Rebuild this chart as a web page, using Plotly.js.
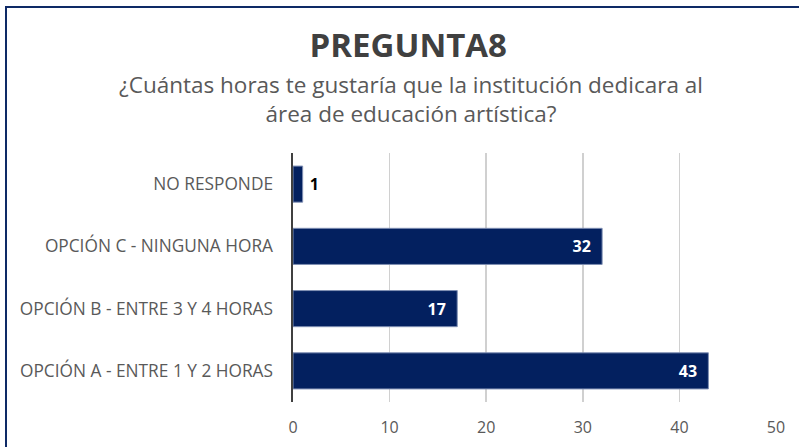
<!DOCTYPE html>
<html>
<head>
<meta charset="utf-8">
<script src="https://cdn.plot.ly/plotly-3.0.1.min.js"></script>
<style>
html,body{margin:0;padding:0;background:#fff;}
#wrap{position:relative;width:799px;height:447px;overflow:hidden;}
#chart{width:799px;height:447px;}
#frame{position:absolute;left:5px;top:6px;width:900px;height:600px;border-top:2px solid #0e2a66;border-left:2px solid #0e2a66;pointer-events:none;}
</style>
</head>
<body>
<div id="wrap"><div id="chart"></div><div id="frame"></div></div>
<script>
const categories = ["OPCIÓN A - ENTRE 1 Y 2 HORAS", "OPCIÓN B - ENTRE 3 Y 4 HORAS", "OPCIÓN C - NINGUNA HORA", "NO RESPONDE"];
const values = [43, 17, 32, 1];
const xTicks = [0, 10, 20, 30, 40, 50];
const titleText = "PREGUNTA8";
const subtitleText = "¿Cuántas horas te gustaría que la institución dedicara al<br>área de educación artística?";

const font = "Open Sans, Liberation Sans, Arial, sans-serif";

const trace = {
  type: "bar",
  orientation: "h",
  x: values,
  y: categories,
  marker: {color: "#03205f", line: {color: "#7f8fb3", width: 1}},
  text: values.map(v => v < 5 ? " " + v : v + "  "),
  textposition: values.map(v => v < 5 ? "outside" : "inside"),
  insidetextanchor: "end",
  textfont: {family: font, size: 16, color: values.map(v => v < 5 ? "#000000" : "#ffffff"), weight: "bold"},
  cliponaxis: false,
  hoverinfo: "x+y"
};

const layout = {
  width: 799, height: 447,
  margin: {l: 293, r: 23, t: 153, b: 45},
  paper_bgcolor: "#ffffff",
  plot_bgcolor: "#ffffff",
  bargap: 0.42,
  showlegend: false,
  title: {
    text: "<b>" + titleText + "</b>",
    x: 0.511, xanchor: "center",
    y: 1 - 45/447, yanchor: "middle", yref: "container",
    font: {family: font, size: 33, color: "#404040"}
  },
  annotations: [{
    text: subtitleText,
    xref: "paper", yref: "paper",
    x: (411 - 293) / 483, y: (402 - 99) / 249,
    xanchor: "center", yanchor: "middle",
    showarrow: false, align: "center",
    font: {family: font, size: 22.5, color: "#595959"}
  }],
  xaxis: {
    range: [0, 50],
    tickvals: xTicks,
    ticktext: xTicks.map(String),
    showgrid: true, gridcolor: "#d0d0d0", gridwidth: 1.5,
    zeroline: false, showline: false,
    ticks: "",
    tickfont: {family: font, size: 16, color: "#595959"},
    ticklabelstandoff: 14,
    fixedrange: true
  },
  yaxis: {
    type: "category",
    showgrid: false,
    showline: true, linecolor: "#404040", linewidth: 2.5,
    zeroline: false,
    ticks: "",
    tickfont: {family: font, size: 17.3, color: "#595959"},
    ticklabelstandoff: 14,
    fixedrange: true
  }
};

Plotly.newPlot("chart", [trace], layout, {displayModeBar: false, staticPlot: true});
</script>
</body>
</html>
